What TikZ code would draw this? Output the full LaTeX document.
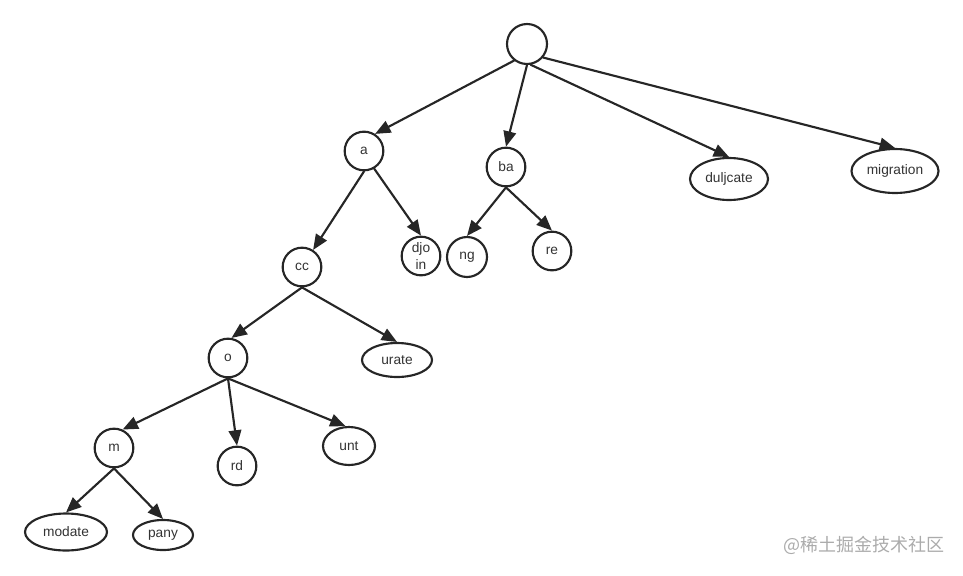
\documentclass[tikz,border=0pt]{standalone}
\usepackage{fontspec}
\setmainfont{Liberation Sans}
\newfontfamily\cjkfont{Noto Sans CJK SC}
\usetikzlibrary{arrows.meta,shapes.geometric}

\definecolor{tratto}{HTML}{262626}
\definecolor{testo}{HTML}{333333}
\definecolor{filigrana}{HTML}{ABABAB}

\begin{document}
\begin{tikzpicture}[x=0.75pt,y=-0.75pt,line join=round,line cap=round,
    font=\fontsize{10.3}{13}\selectfont,
    nodo/.style={draw=tratto,line width=1.6pt,circle,inner sep=0pt,minimum size=29pt,text=testo},
    foglia/.style={draw=tratto,line width=1.6pt,ellipse,inner sep=0pt,text=testo},
    freccia/.style={draw=tratto,line width=1.6pt,-{Triangle[length=11.5pt,width=9.5pt]}}]

  \useasboundingbox (0,0) rectangle (963,575);

  % ---- la radice e il primo livello ----------------------------------------
  \node[nodo,minimum size=30pt] (radice) at (527,44) {};
  \node[nodo] (a)  at (364,151) {a};
  \node[nodo] (ba) at (506,167) {ba};
  \node[foglia,minimum width=58.5pt,minimum height=31.5pt] (duljcate)  at (729,179) {duljcate};
  \node[foglia,minimum width=65.25pt,minimum height=33pt]  (migration) at (895,171) {migration};

  % ---- secondo livello -----------------------------------------------------
  \node[nodo] (cc) at (302,267) {cc};
  \node[nodo,align=center] (djoin) at (421,256) {djo\\in};
  \node[nodo,minimum size=30pt] (ng) at (467,257) {ng};
  \node[nodo] (re) at (552,251) {re};

  % ---- terzo livello -------------------------------------------------------
  \node[nodo] (o) at (228,358) {o};
  \node[foglia,minimum width=52.5pt,minimum height=25.5pt] (urate) at (397,360) {urate};

  % ---- quarto livello ------------------------------------------------------
  \node[nodo] (m)  at (114,448) {m};
  \node[nodo] (rd) at (237,466) {rd};
  \node[foglia,minimum width=39pt,minimum height=28.5pt] (unt) at (349,446) {unt};

  % ---- ultime foglie -------------------------------------------------------
  \node[foglia,minimum width=61.5pt,minimum height=27.75pt] (modate) at (66,532) {modate};
  \node[foglia,minimum width=45pt,minimum height=22.5pt]    (pany)   at (163,535) {pany};

  % ---- gli archi, dal padre al figlio --------------------------------------
  \foreach \padre/\figlio in {radice.232/a.57, radice.south/ba.north,
      radice.-80/duljcate.north, radice.-40/migration.north,
      a.south/cc.57, a.-60/djoin.north, ba.south/ng.north, ba.south/re.north,
      cc.south/o.80, cc.south/urate.north,
      o.south/m.65, o.south/rd.north, o.south/unt.100,
      m.south/modate.north, m.south/pany.north}{
    \draw[freccia] (\padre) -- (\figlio);
  }

  % ---- filigrana -----------------------------------------------------------
  \node[text=filigrana,font=\cjkfont\fontsize{13.5}{16}\selectfont] (firma) at (864,545) {@稀土掘金技术社区};

\end{tikzpicture}
\end{document}
